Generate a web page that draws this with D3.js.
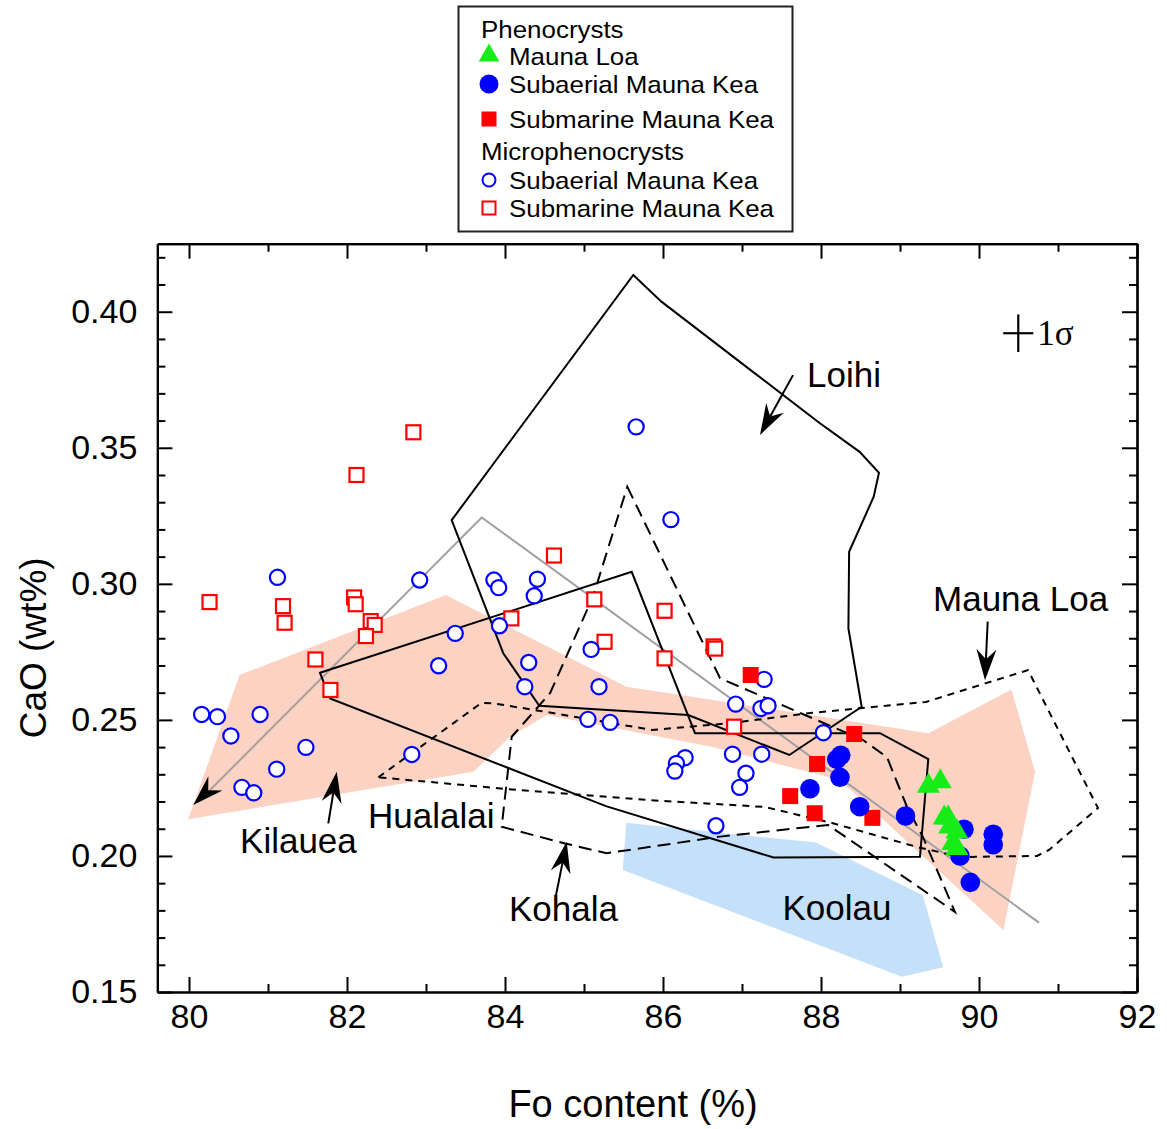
<!DOCTYPE html>
<html>
<head>
<meta charset="utf-8">
<script src="https://cdn.jsdelivr.net/npm/d3@7"></script>
<style>
  html, body { margin: 0; padding: 0; background: #fff; }
  svg text { font-family: "Liberation Sans", Arial, Helvetica, sans-serif; }
</style>
</head>
<body>
<svg id="chart" width="1167" height="1129"></svg>
<script>
// ---- Olivine analyses: [Fo (%), CaO (wt%)] ----
const phenoMaunaLoa = [
  [89.36, 0.2257], [89.51, 0.2273], [89.56, 0.2140], [89.61, 0.2140],
  [89.63, 0.2107], [89.72, 0.2089], [89.67, 0.2046], [89.72, 0.2028]
];
const phenoSubaerialMK = [
  [88.25, 0.2370], [88.20, 0.2355], [88.24, 0.2289], [87.86, 0.2247],
  [88.49, 0.2181], [89.07, 0.2147], [89.81, 0.2098], [90.18, 0.2080],
  [90.18, 0.2041], [89.76, 0.2000], [89.89, 0.1903]
];
const phenoSubmarineMK = [
  [88.42, 0.2448], [87.95, 0.2338], [87.61, 0.2220], [87.92, 0.2157],
  [88.65, 0.2140], [87.11, 0.2665]
];
const microSubaerialMK = [
  [81.12, 0.3024], [82.92, 0.3014], [83.86, 0.3014], [83.92, 0.2986],
  [84.41, 0.3017], [84.37, 0.2956], [83.37, 0.2818], [83.93, 0.2846],
  [83.16, 0.2699], [84.30, 0.2711], [84.25, 0.2622], [80.16, 0.2520],
  [80.36, 0.2512], [80.90, 0.2520], [80.53, 0.2441], [81.48, 0.2399],
  [81.11, 0.2319], [80.67, 0.2252], [80.82, 0.2232], [82.82, 0.2373],
  [85.09, 0.2759], [85.19, 0.2622], [85.05, 0.2502], [85.33, 0.2491],
  [87.28, 0.2649], [86.92, 0.2558], [87.24, 0.2542], [87.33, 0.2552],
  [88.03, 0.2453], [86.28, 0.2361], [86.17, 0.2340], [86.15, 0.2312],
  [86.88, 0.2374], [87.25, 0.2374], [87.05, 0.2304], [86.97, 0.2252],
  [86.67, 0.2111], [85.66, 0.3577], [86.10, 0.3236]
];
const microSubmarineMK = [
  [82.84, 0.3557], [82.12, 0.3400], [84.62, 0.3104], [80.26, 0.2933],
  [81.19, 0.2918], [81.21, 0.2857], [82.09, 0.2950], [82.11, 0.2925],
  [82.30, 0.2863], [82.35, 0.2849], [82.24, 0.2808], [81.60, 0.2722],
  [81.79, 0.2610], [84.08, 0.2873], [85.13, 0.2943], [86.02, 0.2901],
  [85.26, 0.2787], [86.02, 0.2726], [86.64, 0.2770], [86.66, 0.2762],
  [86.90, 0.2475]
];

// ---- Fields of other Hawaiian volcanoes ----
const kilaueaField = [
  [79.99, 0.2135], [80.64, 0.2665], [83.25, 0.2959], [85.54, 0.2622],
  [89.36, 0.2451], [90.41, 0.2612], [90.71, 0.2309], [90.31, 0.1728],
  [88.24, 0.2279], [86.63, 0.2400], [84.53, 0.2518], [84.06, 0.2437],
  [83.60, 0.2309]
];
const koolauField = [
  [85.535, 0.2122], [87.934, 0.2049], [89.289, 0.1856], [89.547, 0.1591],
  [89.023, 0.1556], [85.49, 0.1948]
];
const loihiField = [
  [83.325, 0.3234], [85.624, 0.4135], [85.980, 0.4037], [87.134, 0.3780],
  [87.978, 0.3592], [88.489, 0.3485], [88.734, 0.3408], [88.667, 0.3320],
  [88.356, 0.3118], [88.347, 0.2836], [88.515, 0.2548], [87.599, 0.2371],
  [86.320, 0.2518], [84.434, 0.2552], [83.978, 0.2745]
];
const hualalaiField = [
  [81.658, 0.2673], [85.604, 0.3044], [86.405, 0.2451], [88.747, 0.2451],
  [89.358, 0.2356], [89.253, 0.1997], [87.399, 0.1994], [85.278, 0.2183],
  [81.785, 0.2579]
];
const maunaLoaField = [
  [82.396, 0.2289], [83.705, 0.2563], [83.873, 0.2560], [84.443, 0.2533],
  [85.861, 0.2463], [86.848, 0.2488], [87.861, 0.2525], [89.329, 0.2566],
  [90.089, 0.2635], [90.620, 0.2683], [91.506, 0.2176], [90.886, 0.2022],
  [90.734, 0.2000], [89.772, 0.1996], [89.215, 0.2033], [88.139, 0.2121],
  [87.291, 0.2180], [85.835, 0.2205], [84.025, 0.2246]
];
const kohalaField = [
  [85.548, 0.3357], [86.722, 0.2653], [87.797, 0.2518], [88.532, 0.2426],
  [88.835, 0.2363], [89.089, 0.2180], [89.291, 0.2069], [89.696, 0.1794],
  [88.089, 0.2114], [86.722, 0.2071], [85.287, 0.2010], [84.759, 0.2046],
  [83.958, 0.2107], [84.085, 0.2438], [84.570, 0.2598], [85.114, 0.2953]
];
// Grey reference trend
const trendLine = [[80.266, 0.2242], [83.705, 0.3244], [90.759, 0.1755]];

// ---- Field labels and pointer arrows ----
const fieldLabels = [
  { text: "Loihi",     at: [87.823, 0.3723] },
  { text: "Mauna Loa", at: [89.418, 0.2900] },
  { text: "Kilauea",   at: [80.646, 0.2011] },
  { text: "Hualalai",  at: [82.266, 0.2103] },
  { text: "Kohala",    at: [84.051, 0.1761] },
  { text: "Koolau",    at: [87.513, 0.1764] }
];
const pointerArrows = [
  { from: [87.646, 0.3767], to: [87.228, 0.3547], shaft: true },
  { from: [90.110, 0.2861], to: [90.076, 0.2646], shaft: true },
  { from: [81.763, 0.2120], to: [81.870, 0.2309], shaft: true },
  { from: [84.646, 0.1856], to: [84.781, 0.2052], shaft: true },
  { from: [80.450, 0.2300], to: [80.054, 0.2187], shaft: false }
];
// 1-sigma analytical uncertainty
const sigmaCenter = [90.497, 0.3921];
const sigmaFo = 0.19, sigmaCaO = 0.0069;

// ---- Axis ticks ----
const xMajor = [80, 82, 84, 86, 88, 90, 92];
const xMinor = [81, 83, 85, 87, 89, 91];
const yMajor = [0.15, 0.20, 0.25, 0.30, 0.35, 0.40];
const yMinor = d3.range(15, 43).filter(v => v % 5 !== 0).map(v => v / 100);

// ---- Drawing ----
const svg = d3.select("#chart");
const x = d3.scaleLinear().domain([79.6, 92]).range([157.4, 1137]);
const y = d3.scaleLinear().domain([0.15, 0.425]).range([992, 243.7]);

const BLUE = "#0000ff", RED = "#ff0000", GREEN = "#18ec18";

const poly = d3.line().x(d => x(d[0])).y(d => y(d[1])).curve(d3.curveLinearClosed);
const open = d3.line().x(d => x(d[0])).y(d => y(d[1]));

// filled fields
svg.append("path").attr("d", poly(kilaueaField)).attr("fill", "#fcd2c2").attr("stroke", "none");
svg.append("path").attr("d", poly(koolauField)).attr("fill", "#c5e1fa").attr("stroke", "none");

// trend line and outlined fields
svg.append("path").attr("d", open(trendLine)).attr("fill", "none")
  .attr("stroke", "#a0a0a0").attr("stroke-width", 2);
const outlines = [
  { pts: loihiField, dash: null },
  { pts: hualalaiField, dash: null },
  { pts: maunaLoaField, dash: "7,6" },
  { pts: kohalaField, dash: "13,7" }
];
outlines.forEach(o => {
  svg.append("path").attr("d", poly(o.pts)).attr("fill", "none")
    .attr("stroke", "#000").attr("stroke-width", 2)
    .attr("stroke-linejoin", "miter")
    .attr("stroke-dasharray", o.dash);
});

// arrows
pointerArrows.forEach(a => {
  const x1 = x(a.from[0]), y1 = y(a.from[1]);
  const x2 = x(a.to[0]), y2 = y(a.to[1]);
  const len = Math.hypot(x2 - x1, y2 - y1);
  const ux = (x2 - x1) / len, uy = (y2 - y1) / len;
  const px = -uy, py = ux;
  const L = 31, W = 10, N = 21;
  const bx = x2 - ux * L, by = y2 - uy * L;
  const nx = x2 - ux * N, ny = y2 - uy * N;
  if (a.shaft) {
    svg.append("line").attr("x1", x1).attr("y1", y1).attr("x2", nx).attr("y2", ny)
      .attr("stroke", "#000").attr("stroke-width", 2);
  }
  svg.append("path")
    .attr("d", `M${x2},${y2}L${bx + px * W},${by + py * W}L${nx},${ny}L${bx - px * W},${by - py * W}Z`)
    .attr("fill", "#000");
});

// field labels
svg.append("g").selectAll("text").data(fieldLabels).join("text")
  .attr("x", d => x(d.at[0])).attr("y", d => y(d.at[1]))
  .attr("font-size", 35).attr("fill", "#000").text(d => d.text);

// 1 sigma cross
svg.append("line")
  .attr("x1", x(sigmaCenter[0] - sigmaFo)).attr("x2", x(sigmaCenter[0] + sigmaFo))
  .attr("y1", y(sigmaCenter[1])).attr("y2", y(sigmaCenter[1]))
  .attr("stroke", "#000").attr("stroke-width", 2.2);
svg.append("line")
  .attr("x1", x(sigmaCenter[0])).attr("x2", x(sigmaCenter[0]))
  .attr("y1", y(sigmaCenter[1] - sigmaCaO)).attr("y2", y(sigmaCenter[1] + sigmaCaO))
  .attr("stroke", "#000").attr("stroke-width", 2.2);
svg.append("text")
  .attr("x", x(sigmaCenter[0] + sigmaFo) + 4).attr("y", y(sigmaCenter[1]) + 12)
  .attr("font-size", 35).style("font-family", "'Liberation Serif', 'Times New Roman', serif")
  .text("1σ");

// open symbols (microphenocrysts)
svg.append("g").selectAll("rect").data(microSubmarineMK).join("rect")
  .attr("x", d => x(d[0]) - 7).attr("y", d => y(d[1]) - 7)
  .attr("width", 14).attr("height", 14)
  .attr("fill", "#fff").attr("stroke", RED).attr("stroke-width", 2.2);
svg.append("g").selectAll("circle").data(microSubaerialMK).join("circle")
  .attr("cx", d => x(d[0])).attr("cy", d => y(d[1])).attr("r", 7.6)
  .attr("fill", "#fff").attr("stroke", BLUE).attr("stroke-width", 2.2);

// filled symbols (phenocrysts)
svg.append("g").selectAll("rect").data(phenoSubmarineMK).join("rect")
  .attr("x", d => x(d[0]) - 8).attr("y", d => y(d[1]) - 8)
  .attr("width", 16).attr("height", 16).attr("fill", RED);
svg.append("g").selectAll("circle").data(phenoSubaerialMK).join("circle")
  .attr("cx", d => x(d[0])).attr("cy", d => y(d[1])).attr("r", 9.8).attr("fill", BLUE);
const tri = d3.symbol().type(d3.symbolTriangle).size(230);
svg.append("g").selectAll("path").data(phenoMaunaLoa).join("path")
  .attr("transform", d => `translate(${x(d[0])},${y(d[1])})`)
  .attr("d", tri).attr("fill", GREEN);

// ---- Axes (ticks inward on all four sides) ----
function styleAxis(g) {
  g.selectAll("path.domain").attr("stroke", "#000").attr("stroke-width", 2.2);
  g.selectAll(".tick line").attr("stroke", "#000").attr("stroke-width", 2);
  g.selectAll("text").attr("font-size", 34).attr("fill", "#000")
    .style("font-family", "'Liberation Sans', Arial, Helvetica, sans-serif");
}
const X0 = 157.4, X1 = 1137, Y0 = 992, Y1 = 243.7;
svg.append("g").attr("transform", `translate(0,${Y0})`)
  .call(d3.axisBottom(x).tickValues(xMajor).tickSize(-15).tickSizeOuter(0).tickPadding(12).tickFormat(d3.format("d")))
  .call(styleAxis);
svg.append("g").attr("transform", `translate(0,${Y0})`)
  .call(d3.axisBottom(x).tickValues(xMinor).tickSize(-8).tickSizeOuter(0).tickFormat(""))
  .call(styleAxis);
svg.append("g").attr("transform", `translate(0,${Y1})`)
  .call(d3.axisTop(x).tickValues(xMajor).tickSize(-15).tickSizeOuter(0).tickFormat(""))
  .call(styleAxis);
svg.append("g").attr("transform", `translate(0,${Y1})`)
  .call(d3.axisTop(x).tickValues(xMinor).tickSize(-8).tickSizeOuter(0).tickFormat(""))
  .call(styleAxis);
svg.append("g").attr("transform", `translate(${X0},0)`)
  .call(d3.axisLeft(y).tickValues(yMajor).tickSize(-15).tickSizeOuter(0).tickPadding(20).tickFormat(d3.format(".2f")))
  .call(styleAxis);
svg.append("g").attr("transform", `translate(${X0},0)`)
  .call(d3.axisLeft(y).tickValues(yMinor).tickSize(-8).tickSizeOuter(0).tickFormat(""))
  .call(styleAxis);
svg.append("g").attr("transform", `translate(${X1},0)`)
  .call(d3.axisRight(y).tickValues(yMajor).tickSize(-15).tickSizeOuter(0).tickFormat(""))
  .call(styleAxis);
svg.append("g").attr("transform", `translate(${X1},0)`)
  .call(d3.axisRight(y).tickValues(yMinor).tickSize(-8).tickSizeOuter(0).tickFormat(""))
  .call(styleAxis);

// axis titles
svg.append("text").attr("x", 633).attr("y", 1117)
  .attr("text-anchor", "middle").attr("font-size", 38).text("Fo content (%)");
svg.append("text").attr("transform", `translate(46,${(Y0 + Y1) / 2 + 30}) rotate(-90)`)
  .attr("text-anchor", "middle").attr("font-size", 37).text("CaO (wt%)");

// ---- Legend ----
const legend = svg.append("g");
legend.append("rect").attr("x", 458.5).attr("y", 6.5).attr("width", 334).attr("height", 225)
  .attr("fill", "#fff").attr("stroke", "#222").attr("stroke-width", 2);
const legendRows = [
  { text: "Phenocrysts", y: 38, head: true },
  { text: "Mauna Loa", y: 64.5, sym: "tri" },
  { text: "Subaerial Mauna Kea", y: 93, sym: "dot" },
  { text: "Submarine Mauna Kea", y: 128, sym: "sq" },
  { text: "Microphenocrysts", y: 160, head: true },
  { text: "Subaerial Mauna Kea", y: 189, sym: "ocirc" },
  { text: "Submarine Mauna Kea", y: 217, sym: "osq" }
];
legend.selectAll("text").data(legendRows).join("text")
  .attr("transform", d => `translate(${d.head ? 481 : 509},${d.y}) scale(1.08,1)`)
  .attr("font-size", 24).text(d => d.text);
const sx = 489;
legendRows.forEach(r => {
  const cy = r.y - 9;
  if (r.sym === "tri") {
    legend.append("path").attr("transform", `translate(${sx},${cy})`)
      .attr("d", d3.symbol().type(d3.symbolTriangle).size(185)).attr("fill", GREEN);
  } else if (r.sym === "dot") {
    legend.append("circle").attr("cx", sx).attr("cy", cy).attr("r", 9.5).attr("fill", BLUE);
  } else if (r.sym === "sq") {
    legend.append("rect").attr("x", sx - 7.5).attr("y", cy - 7.5).attr("width", 15).attr("height", 15).attr("fill", RED);
  } else if (r.sym === "ocirc") {
    legend.append("circle").attr("cx", sx).attr("cy", cy).attr("r", 6.5)
      .attr("fill", "#fff").attr("stroke", BLUE).attr("stroke-width", 2);
  } else if (r.sym === "osq") {
    legend.append("rect").attr("x", sx - 6.5).attr("y", cy - 6.5).attr("width", 13).attr("height", 13)
      .attr("fill", "#fff").attr("stroke", RED).attr("stroke-width", 2);
  }
});
</script>
</body>
</html>
